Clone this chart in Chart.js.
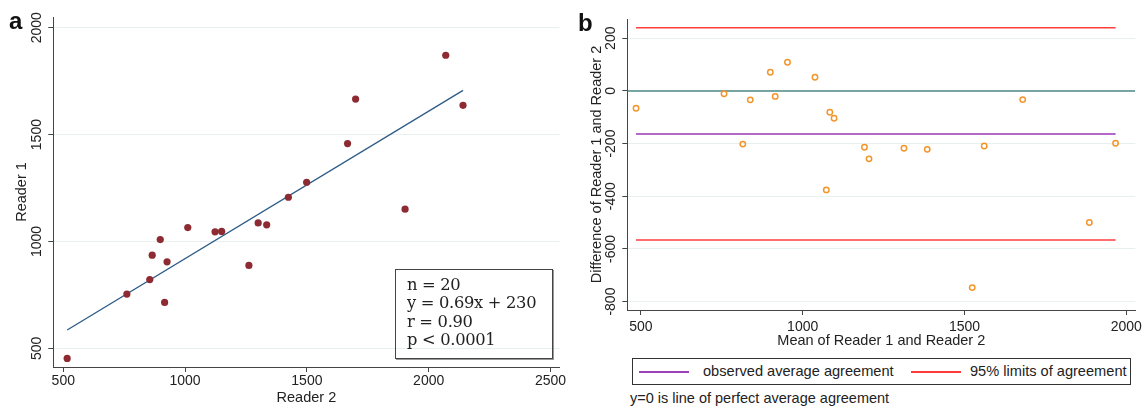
<!DOCTYPE html>
<html><head><meta charset="utf-8">
<script src="https://cdn.jsdelivr.net/npm/chart.js@4.4.0/dist/chart.umd.min.js"></script>
<style>
body{margin:0;background:#fff;width:1146px;height:409px;overflow:hidden;position:relative;font-family:"Liberation Sans",Arial,sans-serif;color:#222}
#ca{position:absolute;left:0;top:0}
#cb{position:absolute;left:570px;top:0}
.lab{position:absolute;font-weight:bold;font-size:24px;line-height:24px;color:#111}
#stats{position:absolute;left:395px;top:269px;width:145px;height:78px;border:1px solid #444;box-shadow:1px 1px 0 #999;font-family:"DejaVu Serif",serif;font-size:16.3px;line-height:18.3px;padding:6px 0 4px 11px;white-space:pre;color:#222;letter-spacing:-0.3px}
#legend{position:absolute;left:632px;top:358px;width:497px;height:25px;border:1px solid #333}
.sw{position:absolute;top:12px;height:2px}
.lt{position:absolute;top:4px;font-size:14.6px;line-height:16px;white-space:nowrap}
#note{position:absolute;left:630px;top:390px;font-size:14.5px;line-height:16px;white-space:nowrap}
</style></head>
<body>
<canvas id="ca" width="570" height="409"></canvas>
<canvas id="cb" width="576" height="352"></canvas>
<div class="lab" style="left:9px;top:9px">a</div>
<div class="lab" style="left:578px;top:11px">b</div>
<div id="stats">n = 20
y = 0.69x + 230
r = 0.90
p &lt; 0.0001</div>
<div id="legend">
  <div class="sw" style="left:6px;width:50px;background:#a040b8"></div>
  <div class="lt" style="left:70px">observed average agreement</div>
  <div class="sw" style="left:278px;width:50px;background:#ff3c3c"></div>
  <div class="lt" style="left:337px">95% limits of agreement</div>
</div>
<div id="note">y=0 is line of perfect average agreement</div>
<script>
// Panel a: reader values
const reader2 = [516,761,855,865,898,926,916,1011,1123,1150,1262,1300,1335,1424,1499,1667,1700,1903,2070,2141];
const reader1 = [453,754,822,936,1009,905,715,1065,1045,1047,888,1087,1078,1207,1277,1458,1666,1151,1871,1637];
const fitX = [516,2141];
const fitY = [586,1707];
const ticksA_X = [500,1000,1500,2000,2500];
const ticksA_Y = [500,1000,1500,2000];

// Panel b: Bland-Altman
const meanVals = [485,757,838,900,953,915,815,1038,1084,1097,1073,1191,1205,1313,1385,1561,1680,1524,1967,1886];
const diffVals = [-66,-11,-34,71,109,-21,-202,52,-81,-104,-376,-214,-258,-218,-222,-209,-33,-747,-199,-500];
const limitX = [485,1967];
const upperLimit = 240;
const meanDiff = -164;
const lowerLimit = -566;
const zeroX = [458,2028];
const ticksB_X = [500,1000,1500,2000];
const ticksB_Y = [-800,-600,-400,-200,0,200];

const FONT = '"Liberation Sans", Arial, sans-serif';
const AX = '#444';
const GRID = '#e9f0f0';

const rotYTicks = {
  id:'rotYTicks',
  afterDraw(chart, args, opts){
    const s = chart.scales.y, c = chart.ctx;
    c.save();
    c.font = '14px ' + FONT; c.fillStyle = '#222';
    c.textAlign = 'center'; c.textBaseline = 'middle';
    opts.values.forEach(v => {
      const y = s.getPixelForValue(v);
      c.save(); c.translate(s.right - opts.offset, y); c.rotate(-Math.PI/2);
      c.fillText(String(v), 0, 0); c.restore();
    });
    c.restore();
  }
};

function xs(vals, arr){ return vals.map((v,i)=>({x:v, y:arr[i]})); }

function axisX(min,max,title,pad,tickPad,h,vals){
  return {type:'linear',min,max,
    afterBuildTicks:s=>{s.ticks = vals.map(v=>({value:v}));},
    afterFit:s=>{s.height=h;},
    border:{color:AX,width:1},
    grid:{drawOnChartArea:false,drawTicks:true,tickLength:5,tickColor:AX},
    ticks:{font:{family:FONT,size:14},color:'#222',padding:tickPad,maxRotation:0,callback:v=>String(v)},
    title:{display:true,text:title,font:{family:FONT,size:14.5},color:'#222',padding:{top:0,bottom:pad}}};
}
function axisY(min,max,title,pad,w,vals){
  return {type:'linear',min,max,
    afterBuildTicks:s=>{s.ticks = vals.map(v=>({value:v}));},
    afterFit:s=>{s.width=w;},
    border:{color:AX,width:1},
    grid:{color:GRID,lineWidth:1,drawTicks:true,tickLength:5,tickColor:AX},
    ticks:{display:false},
    title:{display:true,text:title,font:{family:FONT,size:14.5},color:'#222',padding:{top:pad,bottom:0}}};
}

new Chart(document.getElementById('ca'), {
  type:'scatter',
  data:{datasets:[
    {data:xs(reader2,reader1),pointRadius:3.6,pointHoverRadius:3.6,backgroundColor:'#8e2b32',borderColor:'#8e2b32',borderWidth:0,order:0},
    {data:xs(fitX,fitY),showLine:true,pointRadius:0,borderColor:'#2c5b86',borderWidth:1.3,order:1}
  ]},
  options:{responsive:false,animation:false,devicePixelRatio:1,
    layout:{padding:{left:0,right:10.5,top:17,bottom:0}},
    plugins:{legend:{display:false},tooltip:{enabled:false},rotYTicks:{values:ticksA_Y,offset:16.6}},
    scales:{x:axisX(459,2537,'Reader 2',2.3,1,42,ticksA_X), y:axisY(413,2050,'Reader 1',13.3,53.3,ticksA_Y)}
  },
  plugins:[rotYTicks]
});

new Chart(document.getElementById('cb'), {
  type:'scatter',
  data:{datasets:[
    {data:xs(meanVals,diffVals),pointRadius:2.7,pointHoverRadius:2.7,backgroundColor:'rgba(0,0,0,0)',borderColor:'#f2962c',borderWidth:1.5,order:0},
    {data:xs(zeroX,[0,0]),showLine:true,pointRadius:0,borderColor:'#4d8a87',borderWidth:1.5,order:1},
    {data:xs(limitX,[upperLimit,upperLimit]),showLine:true,pointRadius:0,borderColor:'#ff3c3c',borderWidth:1.5,order:1},
    {data:xs(limitX,[meanDiff,meanDiff]),showLine:true,pointRadius:0,borderColor:'#9b34b3',borderWidth:1.5,order:1},
    {data:xs(limitX,[lowerLimit,lowerLimit]),showLine:true,pointRadius:0,borderColor:'#ff3c3c',borderWidth:1.5,order:1}
  ]},
  options:{responsive:false,animation:false,devicePixelRatio:1,
    layout:{padding:{left:0,right:10,top:19,bottom:0}},
    plugins:{legend:{display:false},tooltip:{enabled:false},rotYTicks:{values:ticksB_Y,offset:16.3}},
    scales:{x:axisX(458,2028,'Mean of Reader 1 and Reader 2',1.9,4,42,ticksB_X), y:axisY(-832,273,'Difference of Reader 1 and Reader 2',18.6,57.3,ticksB_Y)}
  },
  plugins:[rotYTicks]
});
</script>
</body></html>
